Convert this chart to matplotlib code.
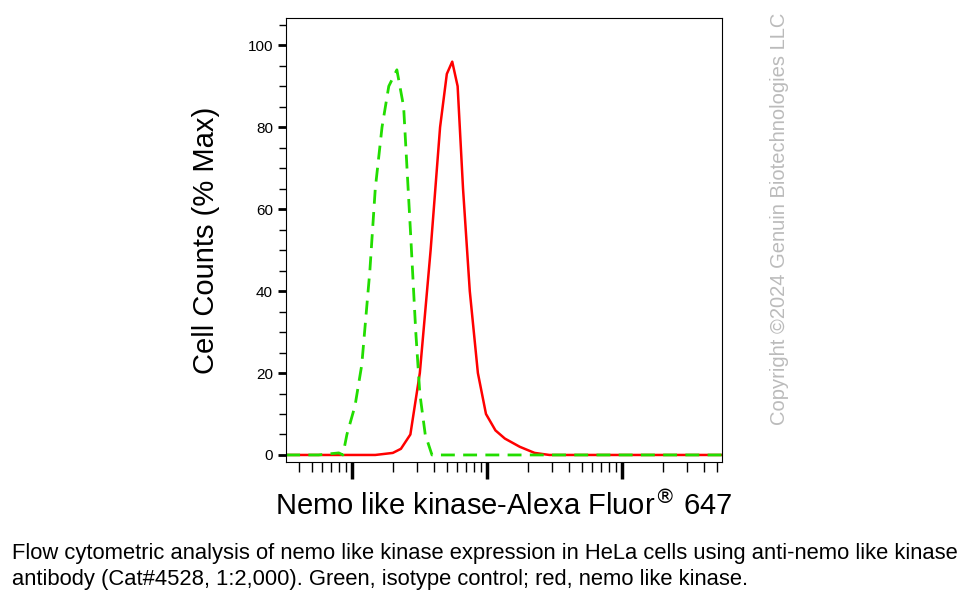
import numpy as np
import matplotlib
matplotlib.use("Agg")
import matplotlib.pyplot as plt
from matplotlib.ticker import LogLocator, NullFormatter, MultipleLocator

plt.rcParams['font.family'] = ['Liberation Sans', 'DejaVu Sans']

# histogram traces, x given as log10 fluorescence
green_logx = [2.51, 2.75, 2.90, 2.93, 2.96, 3.02, 3.07, 3.13, 3.17, 3.22, 3.27, 3.33, 3.38, 3.43, 3.47, 3.50, 3.54, 3.59, 3.70, 4.2, 5.74]
green_y = [0, 0, 0.5, 0, 5, 12, 22, 45, 65, 80, 90, 94, 85, 55, 30, 15, 5, 0, 0, 0, 0]
red_logx = [2.51, 3.17, 3.30, 3.36, 3.43, 3.50, 3.58, 3.65, 3.70, 3.74, 3.78, 3.82, 3.87, 3.93, 3.99, 4.06, 4.13, 4.24, 4.35, 4.46, 5.74]
red_y = [0, 0, 0.5, 1.5, 5, 20, 50, 80, 93, 96, 90, 65, 40, 20, 10, 6, 4, 2, 0.5, 0, 0]

fig = plt.figure(figsize=(9.8, 6.07), dpi=100)
ax = fig.add_axes([0.292, 0.239, 0.445, 0.731])
ax.plot(10 ** np.array(red_logx), red_y, color='#ff0000', lw=1.8)
ax.plot(10 ** np.array(green_logx), green_y, color='#22dd00', lw=2, ls=(0, (5, 3)))
ax.set_xscale('log')
ax.set_xlim(10 ** 2.51, 10 ** 5.74)
ax.set_ylim(-1.7, 106.6)
ax.xaxis.set_major_locator(LogLocator(base=10, numticks=10))
ax.xaxis.set_minor_locator(LogLocator(base=10, subs=np.arange(2, 10), numticks=20))
ax.xaxis.set_major_formatter(NullFormatter())
ax.xaxis.set_minor_formatter(NullFormatter())
ax.tick_params(axis='x', which='major', length=12, width=2.5)
ax.tick_params(axis='x', which='minor', length=7, width=1)
ax.yaxis.set_major_locator(MultipleLocator(20))
ax.yaxis.set_minor_locator(MultipleLocator(5))
ax.tick_params(axis='y', which='major', length=6, width=2, labelsize=11)
ax.tick_params(axis='y', which='minor', length=5, width=1)
ax.set_ylabel('Cell Counts (% Max)', fontsize=21, labelpad=20)
ax.set_xlabel('Nemo like kinase-Alexa Fluor$^{®}$ 647', fontsize=21, labelpad=6)

fig.text(0.795, 0.64, 'Copyright ©2024 Genuin Biotechnologies LLC', rotation=90,
         color='#bbbbbb', fontsize=14.5, ha='center', va='center')
fig.text(0.012, 0.067, 'Flow cytometric analysis of nemo like kinase expression in HeLa cells using anti-nemo like kinase\n'
         'antibody (Cat#4528, 1:2,000). Green, isotype control; red, nemo like kinase.',
         fontsize=15.8, va='center', linespacing=1.3)
fig.savefig('out.png')
